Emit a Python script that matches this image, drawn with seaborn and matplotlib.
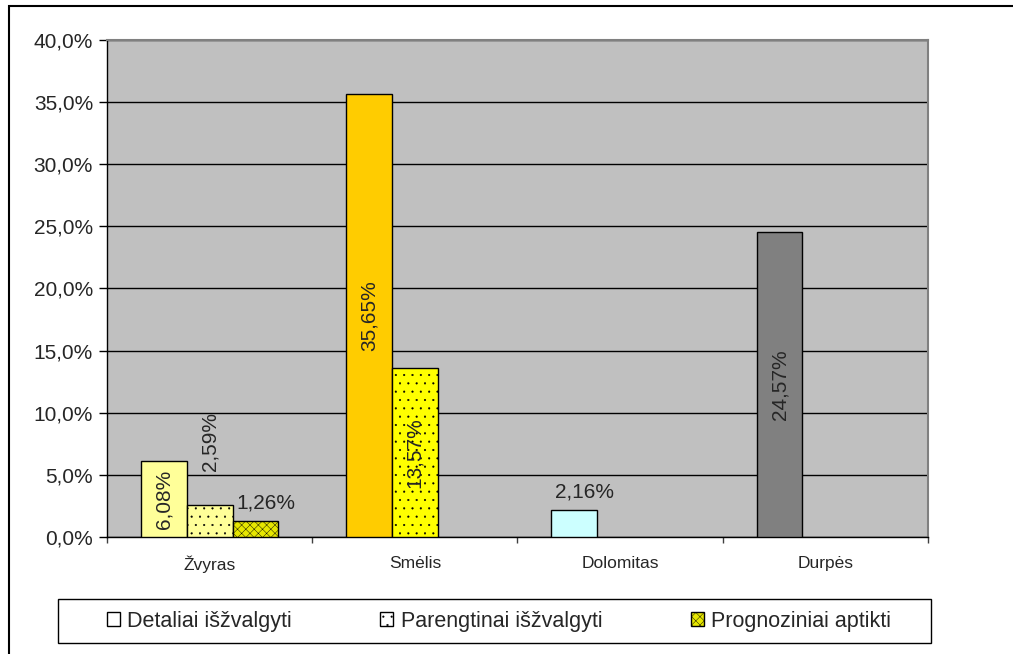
import pandas as pd
import seaborn as sns
import matplotlib.pyplot as plt
from matplotlib.patches import Patch, Rectangle
from matplotlib.ticker import FuncFormatter, FixedLocator

categories = ['Žvyras', 'Smėlis', 'Dolomitas', 'Durpės']
series = ['Detaliai išžvalgyti', 'Parengtinai išžvalgyti', 'Prognoziniai aptikti']
detaliai = [6.08, 35.65, 2.16, 24.57]
parengtinai = [2.59, 13.57, None, None]
prognoziniai = [1.26, None, None, None]

# colours per series (rows) and category (columns)
colors = [['#FFFF99', '#FFCC00', '#CCFFFF', '#808080'],
          ['#FFFF99', '#FFFF00', '#FFFF00', '#FFFF00'],
          ['#E6E600', '#E6E600', '#E6E600', '#E6E600']]
hatches = ['', '..', 'xxxx']

rows = []
for s, vals in zip(series, [detaliai, parengtinai, prognoziniai]):
    for c, v in zip(categories, vals):
        if v is not None:
            rows.append({'cat': c, 'series': s, 'val': v})
df = pd.DataFrame(rows)

sns.set_style('white')
plt.rcParams['font.family'] = ['Liberation Sans', 'DejaVu Sans']
plt.rcParams['hatch.color'] = 'black'
plt.rcParams['hatch.linewidth'] = 0.3

fig = plt.figure(figsize=(10.13, 6.54), dpi=100)
ax = fig.add_axes([0.1056, 0.179, 0.8105, 0.760])
ax.set_facecolor('#C0C0C0')

sns.barplot(data=df, x='cat', y='val', hue='series', order=categories,
            hue_order=series, width=0.67, gap=0, dodge=True, ax=ax,
            legend=False, edgecolor='black', linewidth=1, saturation=1)

fmt = lambda v: f'{v:.2f}'.replace('.', ',') + '%'
for si, cont in enumerate(ax.containers):
    for bar in cont:
        h = bar.get_height()
        if pd.isna(h):
            continue
        cx = bar.get_x() + bar.get_width() / 2
        ci = int(round(cx))
        bar.set_facecolor(colors[si][ci])
        bar.set_hatch(hatches[si])
        bar.set_zorder(3)
        if h >= 5:
            ax.text(cx, h / 2, fmt(h), rotation=90, ha='center', va='center',
                    fontsize=15, zorder=4)
        elif si == 1:
            ax.text(cx, h + 2.7, fmt(h), rotation=90, ha='center', va='bottom',
                    fontsize=15, zorder=4)
        else:
            ax.text(cx + 0.05, h + 0.7, fmt(h), ha='center', va='bottom',
                    fontsize=15, zorder=4)

ax.set_ylim(0, 40)
ax.set_xlim(-0.5, 3.5)
ax.yaxis.set_major_locator(FixedLocator([0, 5, 10, 15, 20, 25, 30, 35, 40]))
ax.yaxis.set_major_formatter(FuncFormatter(lambda v, p: f'{v:.1f}'.replace('.', ',') + '%'))
ax.grid(axis='y', color='black', linewidth=1, zorder=1)
ax.set_axisbelow(True)
ax.tick_params(axis='y', left=True, direction='out', length=6, width=1,
               labelsize=15, pad=4, color='black')
ax.tick_params(axis='x', bottom=False, labelsize=12.5, pad=10)
ax.xaxis.set_minor_locator(FixedLocator([-0.5, 0.5, 1.5, 2.5, 3.5]))
ax.tick_params(axis='x', which='minor', bottom=True, direction='out', length=4,
               width=1, color='#404040')
ax.set_xlabel('')
ax.set_ylabel('')
for side in ['left', 'bottom']:
    ax.spines[side].set_color('black')
    ax.spines[side].set_linewidth(1)
for side in ['top', 'right']:
    ax.spines[side].set_color('#808080')
    ax.spines[side].set_linewidth(1.5)

# legend box
fig.patches.append(Rectangle((58 / 1013, 1 - 643 / 654), 873 / 1013, 44 / 654,
                             transform=fig.transFigure, facecolor='white',
                             edgecolor='black', linewidth=1))
handles = [Patch(facecolor='white', edgecolor='black', label=series[0]),
           Patch(facecolor='white', edgecolor='black', hatch='..', label=series[1]),
           Patch(facecolor='#E6E600', edgecolor='black', hatch='xxxx', label=series[2])]
leg = fig.legend(handles=handles, loc='center', ncol=3, frameon=False,
                 bbox_to_anchor=(499 / 1013, 1 - 621 / 654),
                 fontsize=15.5, handlelength=0.6, handleheight=0.6,
                 handletextpad=0.35, columnspacing=4.1, borderaxespad=0)

fig.patches.append(Rectangle((9 / 1013, -0.1), 1.2, 1.1 - 6 / 654,
                             transform=fig.transFigure, fill=False,
                             edgecolor='black', linewidth=1.5))

fig.savefig('out.png', dpi=100)
